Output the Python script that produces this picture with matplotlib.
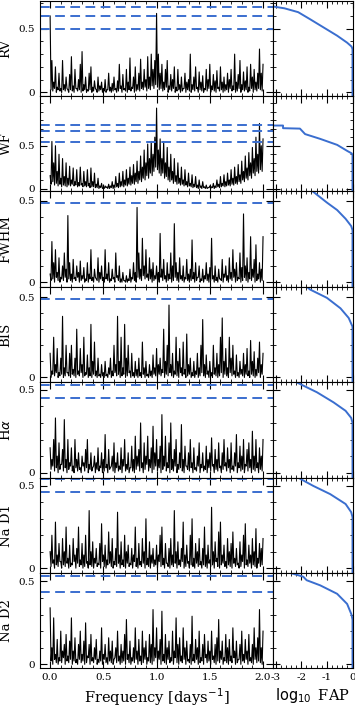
import numpy as np
import matplotlib
matplotlib.use('Agg')
import matplotlib.pyplot as plt
from matplotlib.ticker import MultipleLocator, FixedLocator

plt.rcParams['font.family'] = 'DejaVu Serif'
plt.rcParams['mathtext.fontset'] = 'dejavusans'

#----- datos (potencia x100) -----
labels = ['RV', 'WF', 'FWHM', 'BIS', r'H$\alpha$', 'Na D1', 'Na D2']

# picos (121 valores, frecuencias 0..2)
rv_pow = [60, 25, 8, 20, 4, 15, 3, 25, 6, 12,
          2, 14, 28, 5, 18, 3, 10, 22, 32, 6,
          12, 2, 15, 20, 4, 9, 2, 12, 5, 8,
          3, 10, 2, 15, 4, 7, 12, 3, 9, 22,
          5, 14, 3, 18, 8, 27, 4, 12, 20, 6,
          15, 26, 8, 18, 10, 28, 12, 30, 18, 25,
          62,
          30, 15, 22, 8, 18, 25, 5, 14, 10, 20,
          4, 18, 6, 12, 3, 15, 8, 10, 30, 6,
          12, 20, 4, 16, 8, 13, 3, 18, 10, 22,
          5, 14, 9, 17, 4, 20, 8, 12, 6, 15,
          10, 18, 5, 30, 8, 14, 25, 6, 16, 9,
          20, 4, 22, 12, 18, 8, 15, 34, 15, 22]

wf_pow = [15, 55, 30, 50, 20, 40, 12,
          35, 14, 30, 12, 26, 10, 24,
          8, 22, 7, 25, 6, 20, 8,
          22, 6, 24, 8, 18, 5, 12,
          3, 6, 1, 3, 2, 5, 3,
          8, 4, 14, 6, 18, 8, 20,
          10, 22, 12, 25, 15, 28, 18,
          32, 20, 38, 25, 45, 30, 52,
          35, 55, 40, 60,
          94,
          45, 58, 35, 55,
          30, 48, 25, 40, 20, 35, 15,
          30, 12, 25, 10, 22, 8, 18,
          6, 16, 5, 14, 4, 10, 3,
          8, 2, 4, 1, 3, 2, 6,
          3, 10, 5, 14, 6, 16, 8,
          18, 10, 22, 12, 25, 14, 28,
          16, 32, 20, 38, 24, 42, 30,
          48, 35, 60, 40, 76, 50, 58]

fwhm_pow = [5, 25, 12, 20, 6, 15, 3, 10, 18, 8,
            41, 12, 5, 14, 3, 10, 6, 13, 4, 9,
            2, 12, 5, 20, 3, 8, 2, 15, 6, 10,
            3, 20, 5, 12, 2, 8, 3, 18, 4, 10,
            2, 6, 1, 4, 2, 8, 3, 12, 6, 46,
            18, 8, 27, 10, 20, 5, 15, 8, 12, 4,
            10, 6, 30, 8, 14, 4, 12, 5, 18, 10,
            36, 12, 6, 15, 4, 10, 3, 14, 5, 8,
            26, 6, 12, 3, 10, 2, 8, 4, 12, 5,
            9, 27, 4, 10, 3, 8, 2, 14, 5, 10,
            4, 15, 6, 20, 8, 12, 3, 18, 9, 42,
            10, 15, 6, 28, 8, 14, 23, 5, 12, 8,
            28]

bis_pow = [15, 4, 25, 8, 18, 3, 12, 38, 6, 20,
           3, 15, 20, 5, 12, 30, 4, 18, 8, 25,
           3, 14, 6, 33, 10, 22, 4, 12, 2, 8,
           3, 10, 2, 6, 12, 4, 20, 8, 38, 10,
           25, 6, 33, 12, 20, 4, 15, 3, 10, 5,
           12, 3, 22, 6, 10, 2, 8, 4, 14, 6,
           18, 8, 12, 5, 30, 10, 20, 45, 8, 15,
           4, 25, 10, 18, 6, 22, 5, 27, 8, 12,
           3, 10, 4, 15, 6, 20, 36, 8, 14, 4,
           10, 3, 20, 6, 15, 8, 25, 37, 10, 18,
           6, 25, 12, 20, 4, 14, 3, 10, 5, 15,
           8, 18, 4, 23, 10, 16, 5, 12, 22, 8,
           15]

ha_pow = [15, 8, 20, 33, 10, 18, 5, 14, 32, 8,
          20, 6, 15, 4, 20, 8, 12, 3, 10, 6,
          14, 20, 5, 12, 3, 10, 6, 15, 4, 12,
          8, 23, 5, 14, 3, 10, 18, 6, 12, 4,
          15, 8, 20, 5, 12, 3, 16, 8, 22, 10,
          14, 30, 6, 18, 10, 22, 8, 15, 28, 12,
          20, 8, 16, 35, 10, 22, 6, 18, 30, 8,
          14, 20, 5, 12, 29, 8, 16, 4, 12, 20,
          6, 15, 3, 10, 18, 5, 12, 4, 16, 8,
          12, 21, 5, 14, 8, 18, 4, 12, 20, 6,
          15, 8, 18, 4, 12, 23, 6, 16, 10, 20,
          5, 14, 18, 8, 25, 10, 20, 6, 15, 10,
          20]

nad1_pow = [10, 20, 5, 28, 8, 15, 4, 18, 10, 25,
            6, 14, 3, 18, 8, 12, 25, 5, 15, 8,
            20, 4, 35, 10, 16, 6, 12, 3, 15, 27,
            8, 14, 5, 22, 10, 18, 4, 12, 34, 8,
            16, 5, 20, 10, 14, 3, 12, 8, 25, 6,
            15, 4, 18, 10, 30, 6, 16, 8, 12, 5,
            14, 8, 20, 25, 6, 15, 3, 12, 18, 8,
            35, 10, 16, 5, 12, 28, 8, 14, 4, 20,
            30, 6, 15, 10, 18, 4, 12, 25, 8, 14,
            5, 37, 10, 16, 6, 22, 28, 8, 14, 4,
            18, 10, 15, 22, 6, 12, 3, 16, 8, 20,
            27, 5, 14, 8, 18, 10, 24, 6, 15, 12,
            18]

nad2_pow = [34, 10, 28, 6, 15, 4, 20, 8, 12, 18,
            5, 14, 28, 8, 16, 3, 12, 20, 6, 14,
            25, 5, 12, 18, 4, 10, 15, 3, 8, 22,
            6, 12, 4, 16, 8, 14, 3, 10, 20, 5,
            12, 8, 18, 27, 6, 14, 4, 10, 22, 8,
            15, 5, 20, 10, 14, 4, 18, 12, 33, 10,
            22, 8, 15, 32, 6, 18, 10, 14, 4, 20,
            8, 28, 12, 16, 5, 22, 10, 14, 3, 12,
            29, 6, 15, 10, 20, 4, 12, 18, 6, 14,
            8, 20, 5, 12, 16, 27, 8, 14, 4, 18,
            10, 15, 5, 22, 8, 14, 3, 12, 20, 6,
            15, 8, 18, 4, 12, 22, 10, 16, 33, 10,
            20]

# valles entre picos (120 valores, borde inferior de la banda negra)
rv_valle = [2, 1, 3, 0, 2, 1, 0, 2, 1, 3, 0, 2, 1, 0, 3, 1, 2, 0, 1, 2,
            0, 1, 2, 0, 1, 3, 0, 1, 2, 0, 1, 0, 2, 1, 0, 1, 2, 0, 1, 3,
            0, 2, 1, 0, 2, 1, 3, 0, 1, 2, 1, 3, 2, 4, 1, 3, 2, 5, 3, 6,
            4, 2, 3, 1, 2, 4, 0, 2, 1, 3, 0, 1, 2, 0, 1, 3, 0, 2, 1, 0,
            2, 1, 3, 0, 2, 1, 0, 2, 1, 3, 0, 2, 1, 0, 3, 1, 2, 0, 1, 2,
            0, 3, 1, 2, 0, 1, 3, 0, 2, 1, 2, 0, 1, 3, 0, 2, 1, 3, 2, 1]

wf_valle = [5, 8, 4, 6, 3, 5, 2, 4, 3, 2, 4, 3, 5, 3, 4, 2, 3, 4, 2, 3,
            2, 3, 1, 2, 2, 1, 1, 0, 1, 0, 0, 1, 0, 0, 1, 0, 1, 2, 1, 2,
            3, 2, 4, 3, 5, 4, 6, 5, 8, 6, 10, 8, 12, 10, 15, 12, 18, 15, 20, 25,
            22, 18, 15, 18, 12, 14, 10, 8, 10, 6, 8, 5, 6, 4, 5, 3, 4, 2, 3, 2,
            1, 2, 1, 0, 1, 0, 1, 0, 0, 1, 0, 1, 0, 1, 2, 1, 2, 3, 2, 3,
            4, 3, 5, 4, 6, 5, 8, 6, 10, 8, 12, 10, 15, 12, 18, 15, 20, 18, 22, 20]

fwhm_valle = [1, 2, 0, 3, 1, 0, 2, 1, 3, 0, 2, 1, 0, 2, 1, 3, 0, 1, 2, 0,
              1, 0, 2, 1, 0, 3, 1, 0, 2, 1, 0, 2, 1, 0, 1, 2, 0, 3, 1, 0,
              0, 1, 0, 0, 1, 0, 2, 1, 0, 3, 2, 1, 4, 2, 3, 1, 2, 0, 1, 2,
              1, 0, 3, 1, 2, 0, 1, 2, 0, 1, 3, 1, 0, 2, 1, 0, 2, 1, 0, 1,
              2, 0, 1, 3, 0, 1, 0, 2, 1, 0, 1, 2, 0, 1, 0, 2, 1, 0, 3, 1,
              0, 2, 1, 3, 0, 1, 2, 0, 1, 3, 1, 0, 2, 1, 3, 0, 1, 2, 0, 1]

bis_valle = [0, 2, 1, 3, 0, 1, 2, 0, 1, 3, 1, 0, 2, 1, 0, 2, 1, 3, 0, 1,
             2, 0, 1, 0, 2, 1, 0, 1, 0, 1, 0, 1, 0, 2, 0, 1, 3, 1, 2, 0,
             1, 2, 0, 1, 3, 0, 1, 0, 1, 0, 1, 0, 2, 0, 1, 0, 1, 0, 2, 1,
             0, 2, 1, 3, 0, 2, 1, 3, 1, 0, 2, 1, 0, 3, 1, 2, 0, 1, 2, 0,
             1, 0, 2, 0, 1, 3, 1, 0, 2, 0, 1, 0, 2, 1, 0, 1, 3, 0, 2, 1,
             0, 3, 1, 2, 0, 1, 0, 2, 1, 0, 2, 1, 0, 2, 1, 0, 1, 3, 0, 2]

ha_valle = [2, 4, 1, 3, 0, 2, 5, 1, 3, 0, 2, 4, 1, 0, 3, 1, 2, 0, 4, 1,
            3, 0, 2, 1, 4, 0, 2, 1, 3, 0, 1, 3, 0, 2, 4, 1, 0, 3, 1, 2,
            0, 4, 1, 2, 0, 3, 1, 0, 2, 4, 1, 3, 0, 2, 5, 1, 3, 0, 2, 4,
            1, 3, 0, 2, 4, 1, 3, 0, 2, 1, 4, 0, 2, 3, 1, 0, 4, 2, 1, 3,
            0, 2, 1, 4, 0, 3, 1, 2, 0, 3, 1, 4, 0, 2, 1, 3, 0, 2, 4, 1,
            3, 0, 2, 1, 4, 0, 3, 1, 2, 0, 4, 1, 3, 0, 2, 1, 3, 0, 2, 1]

nad1_valle = [1, 3, 0, 2, 1, 4, 0, 2, 1, 3, 0, 1, 2, 4, 0, 3, 1, 2, 0, 1,
              3, 0, 2, 1, 0, 3, 1, 2, 0, 4, 1, 0, 2, 3, 1, 0, 2, 1, 3, 0,
              2, 1, 0, 3, 1, 2, 0, 4, 1, 0, 2, 1, 3, 0, 2, 1, 0, 3, 1, 2,
              0, 4, 1, 2, 0, 3, 1, 0, 2, 1, 3, 0, 2, 1, 4, 0, 1, 3, 0, 2,
              1, 0, 3, 1, 2, 0, 2, 1, 0, 3, 1, 2, 0, 4, 1, 0, 2, 3, 1, 0,
              2, 1, 0, 3, 1, 2, 0, 1, 4, 0, 2, 1, 3, 0, 2, 1, 0, 3, 1, 2]

nad2_valle = [2, 0, 3, 1, 0, 2, 1, 4, 0, 2, 1, 3, 0, 2, 1, 0, 3, 1, 2, 0,
              1, 4, 0, 2, 1, 3, 0, 1, 2, 0, 3, 1, 0, 2, 1, 0, 4, 1, 2, 0,
              1, 2, 0, 3, 1, 0, 2, 1, 3, 0, 2, 0, 1, 3, 0, 2, 1, 0, 2, 4,
              1, 3, 0, 2, 1, 0, 3, 1, 2, 0, 4, 1, 0, 2, 1, 3, 0, 2, 1, 0,
              2, 1, 3, 0, 1, 2, 0, 4, 1, 2, 0, 3, 1, 0, 2, 1, 3, 0, 2, 1,
              0, 2, 1, 4, 0, 1, 3, 0, 2, 1, 3, 0, 2, 1, 0, 3, 1, 2, 1, 0]

picos = [rv_pow, wf_pow, fwhm_pow, bis_pow, ha_pow, nad1_pow, nad2_pow]
valles = [rv_valle, wf_valle, fwhm_valle, bis_valle, ha_valle, nad1_valle, nad2_valle]

# niveles de FAP (lineas discontinuas)
fap_lineas = [[0.674, 0.60, 0.50],
              [0.74, 0.675, 0.54],
              [0.49],
              [0.49],
              [0.53, 0.45],
              [0.543, 0.462],
              [0.53, 0.435]]

limites_y = [(-0.03, 0.72), (-0.035, 1.08), (-0.029, 0.558), (-0.03, 0.563),
             (-0.03, 0.545), (-0.03, 0.55), (-0.025, 0.55)]

# curvas log10 FAP vs potencia
fap_x = [[-3.08, -2.65, -2.12, -1.66, -1.13, -0.6, -0.21, -0.04, 0.0, 0.0],
         [-3.08, -2.71, -2.71, -2.05, -1.85, -1.26, -0.6, -0.21, -0.03, 0.0, 0.0],
         [-1.75, -1.53, -1.0, -0.6, -0.27, -0.05, 0.0, 0.0],
         [-1.9, -1.66, -1.0, -0.47, -0.15, 0.0, 0.0],
         [-2.18, -1.92, -1.39, -0.74, -0.27, -0.05, 0.0, 0.0],
         [-2.05, -1.53, -0.87, -0.27, -0.05, 0.0, 0.0],
         [-2.45, -1.92, -1.79, -1.26, -0.6, -0.21, -0.04, 0.0, 0.0]]
fap_y = [[0.674, 0.66, 0.63, 0.575, 0.51, 0.445, 0.39, 0.36, 0.34, -0.03],
         [0.736, 0.736, 0.705, 0.70, 0.636, 0.58, 0.51, 0.44, 0.41, 0.39, -0.035],
         [0.58, 0.556, 0.49, 0.444, 0.39, 0.345, 0.32, -0.03],
         [0.58, 0.547, 0.495, 0.43, 0.37, 0.316, -0.03],
         [0.545, 0.525, 0.485, 0.424, 0.373, 0.33, 0.30, -0.03],
         [0.544, 0.50, 0.45, 0.39, 0.34, 0.31, -0.03],
         [0.552, 0.528, 0.507, 0.476, 0.425, 0.364, 0.30, 0.27, -0.025]]

azul = '#3a6ecf'

#------------------------- figura -------------------------
fig = plt.figure(figsize=(3.55, 7.07), dpi=100)
gs = fig.add_gridspec(7, 2, width_ratios=[233, 79.5], hspace=0, wspace=0,
                      left=0.113, right=0.993, top=0.999, bottom=0.0545)

for i in range(7):
    # intercalar picos y valles
    pot = np.empty(len(picos[i]) + len(valles[i]))
    pot[0::2] = np.array(picos[i]) / 100.0
    pot[1::2] = np.array(valles[i]) / 100.0
    freq = np.linspace(0.0, 2.0, len(pot))

    ax = fig.add_subplot(gs[i, 0])
    ax.plot(freq, pot, color='k', lw=0.8)
    for nivel in fap_lineas[i]:
        ax.axhline(nivel, color=azul, lw=1.4, ls=(0, (5, 2.8)))
    ax.set_xlim(-0.094, 2.094)
    ax.set_ylim(*limites_y[i])
    ax.xaxis.set_major_locator(MultipleLocator(0.5))
    ax.xaxis.set_minor_locator(MultipleLocator(0.1))
    ax.yaxis.set_major_locator(FixedLocator([0, 0.5]))
    ax.yaxis.set_minor_locator(MultipleLocator(0.1))
    ax.set_yticklabels(['0', '0.5'])
    ax.tick_params(which='both', direction='in', top=True, right=True, labelsize=7.5)
    ax.tick_params(which='major', length=5)
    ax.tick_params(which='minor', length=2.5)
    ax.set_ylabel(labels[i], fontsize=9.5)
    ax.yaxis.set_label_coords(-0.118, 0.5)
    if i < 6:
        ax.tick_params(labelbottom=False)
    else:
        ax.set_xlabel(r'Frequency [days$^{-1}$]', fontsize=10.5, labelpad=3)

    ax2 = fig.add_subplot(gs[i, 1], sharey=ax)
    ax2.plot(fap_x[i], fap_y[i], color=azul, lw=1.4)
    ax2.set_xlim(-3.1, 0.0)
    ax2.xaxis.set_major_locator(MultipleLocator(1))
    ax2.xaxis.set_minor_locator(MultipleLocator(0.2))
    ax2.tick_params(which='both', direction='in', top=True, right=True,
                    labelleft=False, labelsize=7.5)
    ax2.tick_params(which='major', length=5)
    ax2.tick_params(which='minor', length=2.5)
    if i < 6:
        ax2.tick_params(labelbottom=False)
    else:
        ax2.set_xticks([-3, -2, -1, 0])
        ax2.set_xticklabels(['-3', '-2', '-1', '0'])
        ax2.set_xlabel(r'$\log_{10}$ FAP', fontsize=10.5, labelpad=3)

fig.savefig('out.png', dpi=100)
